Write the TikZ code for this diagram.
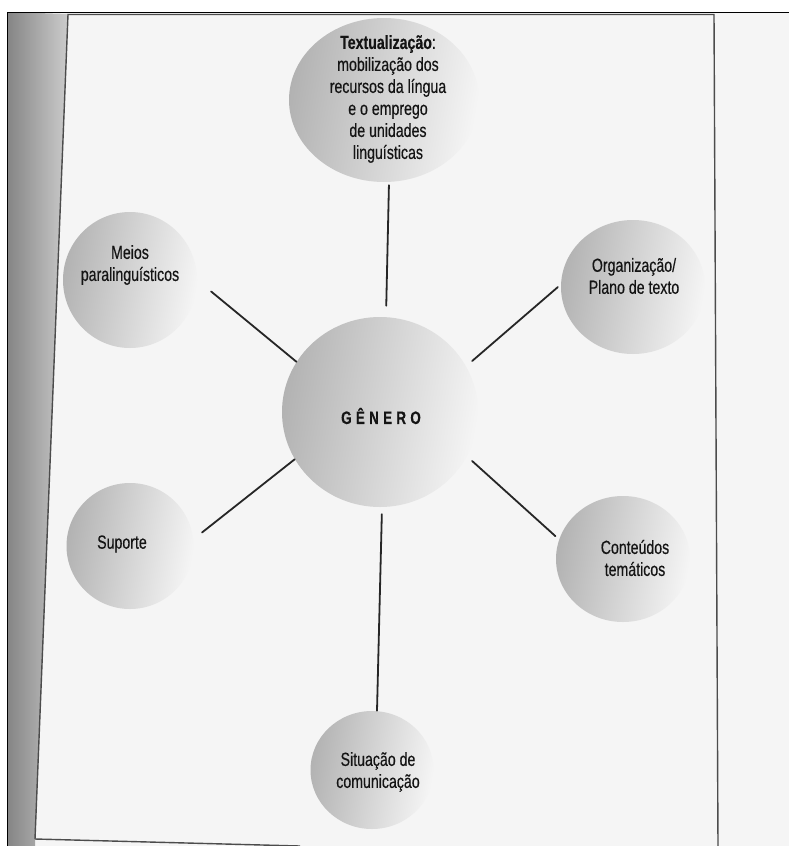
\documentclass[tikz,border=0pt]{standalone}
\usepackage{fontspec}
\setmainfont[FakeStretch=0.745, FakeBold=0.35]{Liberation Sans}
\usetikzlibrary{shapes.geometric}
\begin{document}
\begin{tikzpicture}[x=1pt,y=-1pt,
  bubble/.style={ellipse, draw=none, inner sep=0pt, left color=black!30, right color=black!4, shading angle=80},
  txt/.style={align=center, font=\fontsize{19}{22}\selectfont, inner sep=0pt, text=black!92},
  conn/.style={line width=1.8pt, draw=black!85, line cap=round},
  frameline/.style={line width=1.4pt, draw=black!70}]
% page
\useasboundingbox (0,0) rectangle (789,846);
\fill[white] (0,0) rectangle (789,846);
\fill[black!4] (7,12) rectangle (789,846);
\shade[left color=black!48, right color=black!20] (7,12) -- (68,14) -- (35,846) -- (7,846) -- cycle;
\draw[line width=1pt, black] (7,846) -- (7,12) -- (789,12);
\draw[frameline] (35,839) -- (68,14.5) -- (714,14.5) -- (718,846);
\draw[frameline] (35,839) -- (300,846);
% bubbles
\node[bubble, minimum width=190pt, minimum height=164pt] (top) at (384,100) {};
\node[bubble, minimum width=134pt, minimum height=136pt] (meios) at (130,280) {};
\node[bubble, minimum width=144pt, minimum height=134pt] (org) at (633,287) {};
\node[bubble, minimum width=196pt, minimum height=190pt] (gen) at (380,412) {};
\node[bubble, minimum width=127pt, minimum height=126pt] (sup) at (130,546) {};
\node[bubble, minimum width=134pt, minimum height=126pt] (cont) at (623,559) {};
\node[bubble, minimum width=123pt, minimum height=118pt] (sit) at (372,770) {};
% texts
\node[txt] (topT) at (388,99) {\textbf{Textualização}:\\mobilização dos\\recursos da língua\\e o emprego\\de unidades\\linguísticas};
\node[txt] (meiosT) at (130,265) {Meios\\paralinguísticos};
\node[txt] (orgT) at (634,276) {Organização/\\Plano de texto};
\node[txt, font=\bfseries\fontsize{18}{22}\selectfont] (genT) at (381,416) {G\kern4.3pt Ê\kern4.3pt N\kern4.3pt E\kern4.3pt R\kern4.3pt O};
\node[txt] (supT) at (122,544) {Suporte};
\node[txt] (contT) at (635,558) {Conteúdos\\temáticos};
\node[txt] (sitT) at (378,772) {Situação de\\comunicação};
% connectors
\draw[conn, shorten <=3pt, shorten >=11pt] ([xshift=5pt]top.south) -- ([xshift=6pt]gen.north);
\draw[conn, shorten >=18pt] (gen.149) -- (meios.0);
\draw[conn, shorten <=8pt, shorten >=4pt] (gen.28) -- (org.178);
\draw[conn, shorten >=11pt] (gen.209) -- (sup.6);
\draw[conn, shorten <=7pt, shorten >=5pt] (gen.-27) -- (cont.163);
\draw[conn, shorten <=7pt] ([xshift=2pt]gen.south) -- ([xshift=5pt]sit.north);
\end{tikzpicture}
\end{document}
